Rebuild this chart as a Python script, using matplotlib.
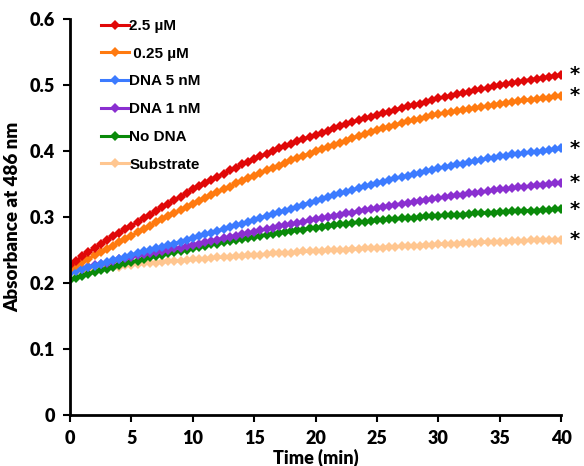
import numpy as np
import matplotlib
matplotlib.use("Agg")
import matplotlib.pyplot as plt

# time grid (min), readings every 0.5 min
time_min = np.arange(81) * 0.5

labels = ["2.5 \u00b5M", " 0.25 \u00b5M", "DNA 5 nM", "DNA 1 nM", "No DNA", "Substrate"]
colors = ["#e00808", "#ff7a10", "#3c7bff", "#8a2fd0", "#0a8a0a", "#ffc690"]

red = [0.228, 0.234, 0.241, 0.247, 0.253, 0.259, 0.265, 0.271, 0.276, 0.282, 0.287,
       0.293, 0.298, 0.304, 0.309, 0.315, 0.320, 0.326, 0.331, 0.337, 0.342,
       0.347, 0.352, 0.357, 0.361, 0.366, 0.371, 0.375, 0.380, 0.384, 0.388,
       0.392, 0.396, 0.400, 0.404, 0.408, 0.411, 0.415, 0.418, 0.422, 0.425,
       0.428, 0.431, 0.435, 0.438, 0.441, 0.444, 0.447, 0.450, 0.452, 0.455,
       0.458, 0.460, 0.463, 0.465, 0.468, 0.470, 0.472, 0.475, 0.477, 0.480,
       0.482, 0.484, 0.486, 0.488, 0.490, 0.492, 0.494, 0.496, 0.498, 0.500,
       0.502, 0.503, 0.505, 0.507, 0.508, 0.510, 0.511, 0.513, 0.514, 0.516]

orange = [0.222, 0.227, 0.232, 0.237, 0.242, 0.247, 0.252, 0.257, 0.262, 0.267, 0.272,
          0.277, 0.282, 0.287, 0.292, 0.297, 0.301, 0.306, 0.311, 0.315, 0.320,
          0.325, 0.329, 0.333, 0.338, 0.342, 0.346, 0.351, 0.355, 0.359, 0.363,
          0.367, 0.371, 0.375, 0.378, 0.382, 0.386, 0.389, 0.393, 0.396, 0.400,
          0.403, 0.407, 0.410, 0.413, 0.416, 0.420, 0.423, 0.426, 0.429, 0.432,
          0.435, 0.437, 0.440, 0.442, 0.445, 0.447, 0.449, 0.452, 0.454, 0.456,
          0.458, 0.459, 0.461, 0.462, 0.464, 0.465, 0.467, 0.468, 0.470, 0.472,
          0.473, 0.474, 0.476, 0.477, 0.478, 0.479, 0.480, 0.481, 0.483, 0.484]

blue = [0.215, 0.218, 0.221, 0.224, 0.226, 0.229, 0.232, 0.235, 0.237, 0.240, 0.243,
        0.245, 0.248, 0.250, 0.253, 0.255, 0.258, 0.260, 0.263, 0.265, 0.268,
        0.271, 0.274, 0.276, 0.279, 0.282, 0.285, 0.288, 0.290, 0.293, 0.296,
        0.299, 0.302, 0.305, 0.308, 0.310, 0.313, 0.316, 0.319, 0.322, 0.325,
        0.328, 0.330, 0.333, 0.336, 0.338, 0.341, 0.344, 0.347, 0.349, 0.352,
        0.354, 0.357, 0.359, 0.361, 0.363, 0.365, 0.367, 0.370, 0.372, 0.374,
        0.376, 0.378, 0.380, 0.381, 0.383, 0.385, 0.387, 0.389, 0.390, 0.392,
        0.393, 0.395, 0.396, 0.397, 0.398, 0.399, 0.400, 0.401, 0.403, 0.404]

purple = [0.218, 0.220, 0.222, 0.224, 0.227, 0.229, 0.231, 0.233, 0.236, 0.238, 0.240,
          0.242, 0.244, 0.246, 0.247, 0.249, 0.251, 0.253, 0.254, 0.256, 0.258,
          0.260, 0.262, 0.264, 0.266, 0.268, 0.270, 0.272, 0.274, 0.276, 0.278,
          0.280, 0.282, 0.284, 0.286, 0.288, 0.289, 0.291, 0.293, 0.295, 0.297,
          0.299, 0.300, 0.302, 0.304, 0.306, 0.307, 0.309, 0.311, 0.312, 0.314,
          0.316, 0.317, 0.319, 0.320, 0.322, 0.323, 0.325, 0.326, 0.328, 0.329,
          0.330, 0.332, 0.333, 0.334, 0.336, 0.337, 0.338, 0.339, 0.341, 0.342,
          0.343, 0.344, 0.345, 0.346, 0.347, 0.348, 0.349, 0.350, 0.351, 0.352]

green = [0.205, 0.208, 0.211, 0.214, 0.217, 0.220, 0.222, 0.225, 0.227, 0.230, 0.232,
         0.234, 0.237, 0.239, 0.241, 0.243, 0.245, 0.247, 0.249, 0.251, 0.253,
         0.255, 0.257, 0.259, 0.260, 0.262, 0.264, 0.265, 0.267, 0.268, 0.270,
         0.272, 0.273, 0.275, 0.276, 0.277, 0.279, 0.280, 0.281, 0.283, 0.284,
         0.285, 0.286, 0.288, 0.289, 0.290, 0.291, 0.292, 0.293, 0.294, 0.295,
         0.296, 0.297, 0.297, 0.298, 0.299, 0.299, 0.300, 0.301, 0.301, 0.302,
         0.303, 0.303, 0.304, 0.304, 0.305, 0.306, 0.306, 0.307, 0.307, 0.308,
         0.308, 0.309, 0.309, 0.310, 0.310, 0.310, 0.311, 0.311, 0.312, 0.312]

substrate = [0.215, 0.217, 0.218, 0.220, 0.221, 0.222, 0.223, 0.224, 0.225, 0.227, 0.228,
             0.229, 0.230, 0.230, 0.231, 0.232, 0.233, 0.234, 0.234, 0.235, 0.236,
             0.237, 0.237, 0.238, 0.239, 0.239, 0.240, 0.241, 0.241, 0.242, 0.243,
             0.243, 0.244, 0.245, 0.245, 0.246, 0.246, 0.247, 0.248, 0.248, 0.249,
             0.249, 0.250, 0.250, 0.251, 0.251, 0.252, 0.252, 0.253, 0.253, 0.254,
             0.254, 0.255, 0.255, 0.256, 0.256, 0.257, 0.257, 0.258, 0.258, 0.259,
             0.259, 0.260, 0.260, 0.261, 0.261, 0.261, 0.262, 0.262, 0.263, 0.263,
             0.263, 0.264, 0.264, 0.264, 0.265, 0.265, 0.265, 0.266, 0.266, 0.266]

series = [red, orange, blue, purple, green, substrate]

fig = plt.figure(figsize=(5.84, 4.66), dpi=100)
ax = fig.add_axes([0.12, 0.109, 0.841, 0.85])

# draw back to front so red ends on top
for vals, lab, col in reversed(list(zip(series, labels, colors))):
    ax.plot(time_min, vals, color=col, lw=2.2, marker="D", markersize=5.5,
            markeredgewidth=0, label=lab)

# asterisks to the right of each curve end
for vals in series:
    ax.text(41.1, vals[-1], "*", fontsize=14, fontweight="bold", ha="center",
            va="center", clip_on=False, family="DejaVu Sans")

ax.set_xlim(0, 40)
ax.set_ylim(0, 0.6)
ax.set_xticks(np.arange(0, 41, 5))
ax.set_yticks([0, 0.1, 0.2, 0.3, 0.4, 0.5, 0.6])
ax.set_yticklabels(["0", "0.1", "0.2", "0.3", "0.4", "0.5", "0.6"])

for s in ["top", "right"]:
    ax.spines[s].set_visible(False)
for s in ["left", "bottom"]:
    ax.spines[s].set_linewidth(2)
ax.tick_params(width=1.5, length=5, labelsize=13, pad=6)
for t in ax.get_xticklabels() + ax.get_yticklabels():
    t.set_fontweight("heavy")
    t.set_family("Lato")

ax.set_xlabel("Time (min)", fontsize=13, fontweight="heavy", family="Lato", labelpad=1)
ax.set_ylabel("Absorbance at 486 nm", fontsize=13.5, fontweight="heavy", family="Lato",
              labelpad=6)

handles, labs = ax.get_legend_handles_labels()
leg = ax.legend(handles[::-1], labs[::-1], loc="upper left", bbox_to_anchor=(0.035, 1.035),
                frameon=False, handlelength=1.8, handletextpad=0.05, labelspacing=0.9,
                prop={"family": "Liberation Sans", "weight": "bold", "size": 11})

fig.savefig("out.png", dpi=100)
